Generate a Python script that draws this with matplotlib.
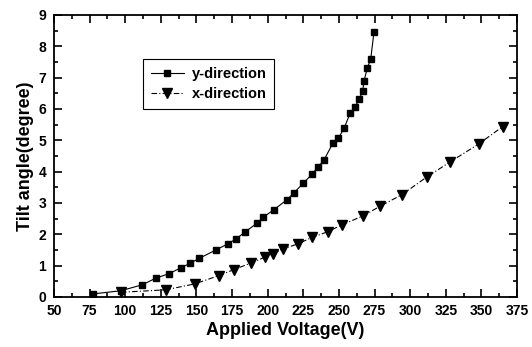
import matplotlib
matplotlib.use("Agg")
import matplotlib.pyplot as plt
from matplotlib.ticker import MultipleLocator

plt.rcParams['font.family'] = ['Liberation Sans', 'DejaVu Sans']
plt.rcParams['font.weight'] = 'bold'

y_volt = [77.6, 97, 112, 121.4, 131, 139, 145.7, 151.8, 163.6, 171.8, 177.6, 184,
          192.3, 197, 204.5, 213.4, 218.5, 225, 231.3, 235.5, 239.5, 246, 249.6,
          253.6, 257.8, 261.3, 264.3, 266.7, 267.6, 270, 272.3, 274.6]
y_tilt = [0.1, 0.2, 0.39, 0.6, 0.75, 0.93, 1.08, 1.23, 1.5, 1.69, 1.85, 2.07,
          2.35, 2.55, 2.79, 3.1, 3.33, 3.63, 3.93, 4.16, 4.37, 4.93, 5.07,
          5.38, 5.86, 6.07, 6.31, 6.59, 6.89, 7.32, 7.59, 8.45]

x_volt = [97, 128.5, 149, 165.5, 176, 188, 198, 204, 211, 221, 231, 242, 252,
          267, 279, 294, 312, 328, 348, 365]
x_tilt = [0.15, 0.23, 0.42, 0.68, 0.87, 1.08, 1.27, 1.38, 1.54, 1.69, 1.9, 2.08,
          2.3, 2.59, 2.9, 3.26, 3.84, 4.31, 4.88, 5.44]

fig = plt.figure(figsize=(5.32, 3.47), dpi=100)
ax = fig.add_axes([54/532, 1-297/347, (517-54)/532, (297-15)/347])

ax.plot(y_volt, y_tilt, color='black', lw=0.8, ls='-', marker='s', ms=5,
        label='y-direction')
ax.plot(x_volt, x_tilt, color='black', lw=0.8, ls=(0, (5, 2, 1, 2)), marker='v', ms=7,
        label='x-direction')

ax.set_xlim(50, 375)
ax.set_ylim(0, 9)
ax.xaxis.set_major_locator(MultipleLocator(25))
ax.xaxis.set_minor_locator(MultipleLocator(12.5))
ax.yaxis.set_major_locator(MultipleLocator(1))
ax.yaxis.set_minor_locator(MultipleLocator(0.5))
ax.tick_params(which='both', direction='in', top=True, right=True, width=1.2)
ax.tick_params(which='major', length=5.5, labelsize=10)
ax.tick_params(axis='x', which='major', pad=5)
ax.tick_params(axis='y', which='major', pad=5.5)
ax.tick_params(which='minor', length=3)
for s in ax.spines.values():
    s.set_linewidth(1.3)

ax.set_xlabel('Applied Voltage(V)', fontsize=13, fontweight='bold', labelpad=3)
ax.set_ylabel('Tilt angle(degree)', fontsize=13, fontweight='bold', labelpad=3)

leg = ax.legend(loc='upper left', bbox_to_anchor=((142.7-54)/463, 1-(59-15)/282),
                borderaxespad=0, fancybox=False, edgecolor='black', framealpha=1,
                prop={'size': 10.5, 'weight': 'bold'}, handlelength=2.3,
                handletextpad=0.5, borderpad=0.55, labelspacing=0.4)
leg.get_frame().set_linewidth(0.8)

fig.savefig('out.png', dpi=100)
